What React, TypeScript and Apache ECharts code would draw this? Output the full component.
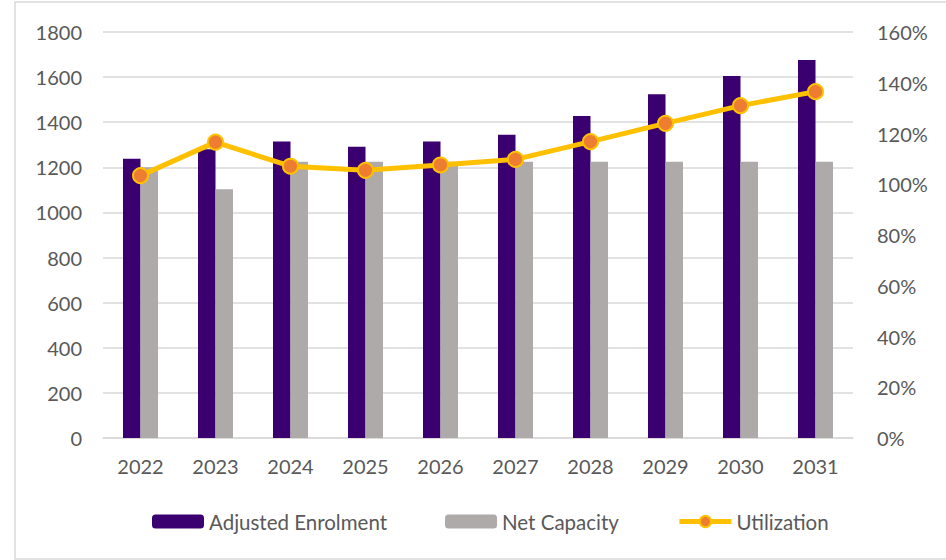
import React, { useEffect, useRef } from "react";
import * as echarts from "echarts";

const years = ["2022", "2023", "2024", "2025", "2026", "2027", "2028", "2029", "2030", "2031"];
const adjustedEnrolment = [1238, 1280, 1315, 1291, 1315, 1345, 1428, 1524, 1605, 1676];
const netCapacity = [1200, 1103, 1225, 1225, 1225, 1225, 1225, 1225, 1225, 1225];
const utilization = [103.4, 116.6, 107.1, 105.5, 107.6, 109.8, 116.8, 124.0, 131.0, 136.5];

const FONT = "Lato, 'Open Sans', sans-serif";
const TXT = "#595959";

export default function App() {
  const ref = useRef<HTMLDivElement>(null);
  useEffect(() => {
    if (!ref.current) return;
    const chart = echarts.init(ref.current, undefined, { renderer: "svg" });
    chart.setOption({
      animation: false,
      backgroundColor: "#ffffff",
      textStyle: { fontFamily: FONT },
      graphic: [
        {
          type: "rect",
          shape: { x: 15, y: 2, width: 940, height: 557 },
          style: { fill: "none", stroke: "#d9d9d9", lineWidth: 1.5 },
          silent: true,
          z: -10,
        },
      ],
      grid: { left: 103, right: 93, top: 32, bottom: 122 },
      legend: {
        top: 506,
        left: 147,
        itemWidth: 52,
        itemHeight: 14,
        itemGap: 58,
        textStyle: { color: TXT, fontSize: 20.5, fontFamily: FONT },
        data: [
          { name: "Adjusted Enrolment" },
          { name: "Net Capacity" },
          { name: "Utilization", lineStyle: { width: 5 }, itemStyle: { borderWidth: 2 } },
        ],
      },
      xAxis: {
        type: "category",
        data: years,
        axisLine: { lineStyle: { color: "#d9d9d9", width: 1.5 } },
        axisTick: { show: false },
        axisLabel: { color: TXT, fontSize: 20, margin: 18, fontFamily: FONT },
      },
      yAxis: [
        {
          type: "value",
          min: 0,
          max: 1800,
          interval: 200,
          axisLine: { show: false },
          axisTick: { show: false },
          splitLine: { lineStyle: { color: "#d9d9d9", width: 1.5 } },
          axisLabel: {
            color: TXT,
            fontSize: 20,
            margin: 21,
            fontFamily: FONT,
            formatter: (v: number) => String(v),
          },
        },
        {
          type: "value",
          min: 0,
          max: 160,
          interval: 20,
          axisLine: { show: false },
          axisTick: { show: false },
          splitLine: { show: false },
          axisLabel: { color: TXT, fontSize: 20, margin: 24, formatter: "{value}%", fontFamily: FONT },
        },
      ],
      series: [
        {
          name: "Adjusted Enrolment",
          type: "bar",
          data: adjustedEnrolment,
          barWidth: 17.5,
          barGap: "0%",
          itemStyle: { color: "#3a006f" },
        },
        {
          name: "Net Capacity",
          type: "bar",
          data: netCapacity,
          barWidth: 17.5,
          barGap: "0%",
          itemStyle: { color: "#aeaaaa" },
        },
        {
          name: "Utilization",
          type: "line",
          yAxisIndex: 1,
          data: utilization,
          symbol: "circle",
          symbolSize: 15,
          lineStyle: { color: "#ffc000", width: 5 },
          itemStyle: { color: "#ed7d31", borderColor: "#ffc000", borderWidth: 2 },
          z: 5,
        },
      ],
    });
    return () => chart.dispose();
  }, []);
  return (
    <div
      ref={ref}
      style={{ position: "fixed", left: 0, top: 0, width: 946, height: 560 }}
    />
  );
}
